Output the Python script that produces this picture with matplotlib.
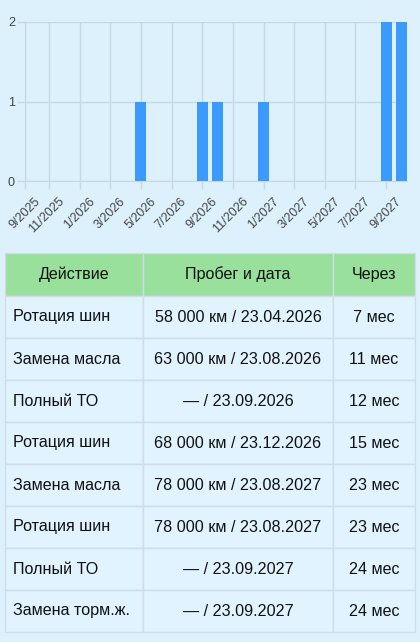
import matplotlib.pyplot as plt
import matplotlib.transforms as mtransforms
from matplotlib.patches import Rectangle

plt.rcParams['font.family'] = ['Liberation Sans', 'DejaVu Sans']

# ============================================================
#  Datos
# ============================================================

# eje x en meses (0 = inicio de 9/2025)
tick_pos = [0.44, 2, 4, 6, 8, 10, 12, 14, 16, 18, 20, 22, 24]
tick_labels = ["9/2025", "11/2025", "1/2026", "3/2026", "5/2026", "7/2026",
               "9/2026", "11/2026", "1/2027", "3/2027", "5/2027", "7/2027",
               "9/2027"]

bar_x = [8, 12, 13, 16, 24, 25]
bar_counts = [1, 1, 1, 1, 2, 2]

headers = ["Действие", "Пробег и дата", "Через"]
actions = ["Ротация шин", "Замена масла", "Полный ТО", "Ротация шин",
           "Замена масла", "Ротация шин", "Полный ТО", "Замена торм.ж."]
mileage_date = ["58 000 км / 23.04.2026", "63 000 км / 23.08.2026",
                "— / 23.09.2026", "68 000 км / 23.12.2026",
                "78 000 км / 23.08.2027", "78 000 км / 23.08.2027",
                "— / 23.09.2027", "— / 23.09.2027"]
months_left = ["7 мес", "11 мес", "12 мес", "15 мес",
               "23 мес", "23 мес", "24 мес", "24 мес"]

# ============================================================
#  Figura
# ============================================================

W, H = 420, 642
bg = "#ddf1fd"
grid_c = "#c6d8e4"
text_c = "#444444"

fig = plt.figure(figsize=(W / 100, H / 100), dpi=100, facecolor=bg)

# --- Grafico de barras ---
ax = fig.add_axes([25 / W, (H - 181) / H, (407 - 25) / W, (181 - 22) / H])
ax.set_facecolor(bg)
ax.bar(bar_x, bar_counts, width=0.72, color="#3a9bfc", zorder=3)
ax.set_xlim(0.44, 25.36)
ax.set_ylim(0, 2)
ax.set_yticks([0, 1, 2])
ax.set_xticks(tick_pos)
ax.set_xticklabels(tick_labels, rotation=45, ha="right", va="top",
                   rotation_mode="anchor")
ax.tick_params(axis="both", colors=grid_c, labelcolor=text_c,
               labelsize=9, length=5.8, width=1)
ax.tick_params(axis="x", pad=4.3)
ax.tick_params(axis="y", pad=1.5)
ax.grid(True, color=grid_c, linewidth=1, zorder=0)
for s in ["top", "right"]:
    ax.spines[s].set_visible(False)
for s in ["left", "bottom"]:
    ax.spines[s].set_color(grid_c)

# etiquetas algo corridas a la derecha, como en Chart.js
shift = mtransforms.ScaledTranslation(9 / 100, 0, fig.dpi_scale_trans)
for lbl in ax.get_xticklabels():
    lbl.set_transform(lbl.get_transform() + shift)

# --- Tabla ---
tab = fig.add_axes([0, 0, 1, 1])
tab.set_xlim(0, W)
tab.set_ylim(H, 0)
tab.axis("off")

col_x = [5, 143, 333, 415]
top = 253
head_h = 43
row_h = 42
border = "#cfdde6"
fs = 11.6

for j in range(3):
    tab.add_patch(Rectangle((col_x[j], top), col_x[j + 1] - col_x[j], head_h,
                            facecolor="#98e09b", edgecolor=border, lw=1))
    tab.text((col_x[j] + col_x[j + 1]) / 2, top + head_h / 2, headers[j],
             ha="center", va="center", fontsize=fs, color="#111111")

for i in range(len(actions)):
    y0 = top + head_h + i * row_h
    for j in range(3):
        tab.add_patch(Rectangle((col_x[j], y0), col_x[j + 1] - col_x[j], row_h,
                                facecolor="#e0f3fe", edgecolor=border, lw=1))
    yc = y0 + row_h / 2
    tab.text(13, yc, actions[i], ha="left", va="center",
             fontsize=fs, color="#111111")
    tab.text((col_x[1] + col_x[2]) / 2, yc, mileage_date[i], ha="center",
             va="center", fontsize=fs, color="#111111")
    tab.text((col_x[2] + col_x[3]) / 2, yc, months_left[i], ha="center",
             va="center", fontsize=fs, color="#111111")

fig.savefig("out.png", dpi=100, facecolor=bg)
